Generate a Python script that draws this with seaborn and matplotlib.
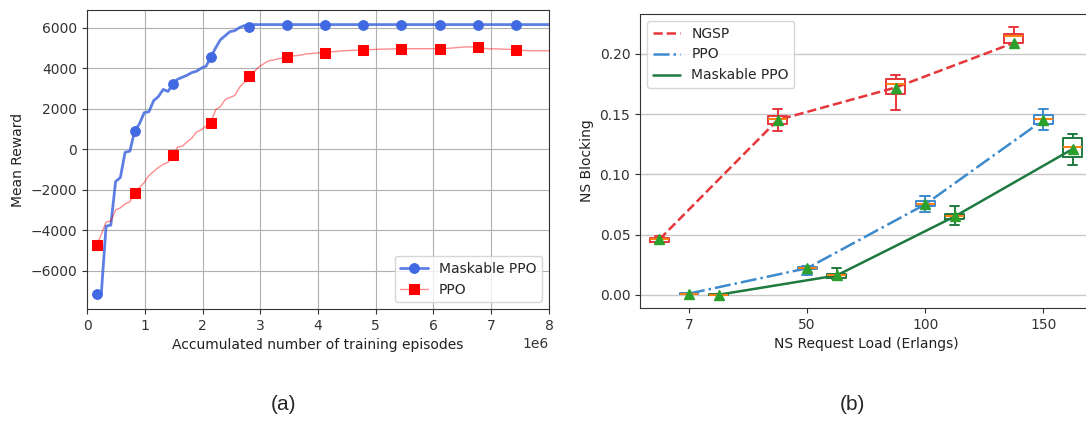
import numpy as np
import pandas as pd
import seaborn as sns
import matplotlib
matplotlib.use("Agg")
import matplotlib.pyplot as plt

# ---- (a) training curves, evaluated every 82.5k episodes ----
eval_start = 165000
eval_step = 82500
n_evals = 97
episodes = eval_start + eval_step * np.arange(n_evals)

maskable_reward = [-7150, -7150, -3800, -3750, -1600, -1400, -150, -100, 900, 1250,
                   1800, 1850, 2400, 2600, 2950, 2850, 3200, 3450, 3550, 3650,
                   3780, 3850, 4000, 4100, 4550, 5000, 5400, 5600, 5800, 5850,
                   6000, 6100, 6050, 6150] + [6150] * 63

ppo_reward = [-4750, -4200, -3600, -3550, -3000, -2900, -2700, -2600, -2150, -1900,
              -1650, -1300, -1100, -900, -750, -650, -300, 100, 150, 350,
              550, 850, 950, 1150, 1300, 1950, 2100, 2450, 2550, 2650,
              3050, 3300, 3600, 3800, 4050, 4200, 4350, 4400, 4450, 4500,
              4550, 4600, 4620, 4650, 4700, 4720, 4740, 4760, 4770, 4800,
              4820, 4840, 4860, 4870, 4880, 4890, 4900, 4910, 4920, 4930,
              4940, 4940, 4950, 4950, 4960, 4960, 4960, 4960, 4960, 4960,
              4960, 4960, 4960, 4970, 4980, 5000, 5020, 5040, 5050, 5050,
              5030, 4980, 4960, 4950, 4950, 4940, 4930, 4920, 4900, 4880,
              4870, 4860, 4860, 4860, 4860, 4860, 4850]

# ---- (b) blocking box stats ----
loads = ["7", "50", "100", "150"]

ngsp_mean = [0.046, 0.145, 0.172, 0.209]
ngsp_med = [0.046, 0.146, 0.175, 0.215]
ngsp_q1 = [0.044, 0.142, 0.167, 0.209]
ngsp_q3 = [0.047, 0.148, 0.179, 0.216]
ngsp_lo = [0.043, 0.136, 0.153, 0.209]
ngsp_hi = [0.049, 0.154, 0.182, 0.222]

ppo_mean = [0.001, 0.022, 0.075, 0.145]
ppo_med = [0.001, 0.022, 0.075, 0.146]
ppo_q1 = [0.0005, 0.021, 0.074, 0.142]
ppo_q3 = [0.0012, 0.023, 0.078, 0.149]
ppo_lo = [0.0005, 0.016, 0.069, 0.137]
ppo_hi = [0.0012, 0.024, 0.082, 0.154]

mask_mean = [0.000, 0.016, 0.065, 0.121]
mask_med = [0.000, 0.016, 0.065, 0.123]
mask_q1 = [0.000, 0.014, 0.063, 0.114]
mask_q3 = [0.0003, 0.017, 0.067, 0.130]
mask_lo = [0.000, 0.013, 0.058, 0.108]
mask_hi = [0.0003, 0.022, 0.074, 0.133]

sns.set_style("ticks")
plt.rcParams["font.family"] = ["DejaVu Sans"]
plt.rcParams["font.size"] = 10
plt.rcParams["axes.edgecolor"] = "#333333"
plt.rcParams["xtick.color"] = "#333333"
plt.rcParams["ytick.color"] = "#333333"
plt.rcParams["axes.labelcolor"] = "#222222"

W, H = 1086, 421
fig = plt.figure(figsize=(W / 100, H / 100), dpi=100)

def px_axes(left, top, right, bottom):
    return fig.add_axes([left / W, 1 - bottom / H, (right - left) / W, (bottom - top) / H])

# ---------- panel (a) ----------
ax1 = px_axes(87, 10, 549, 309)
df_a = pd.DataFrame({"episodes": episodes, "Maskable PPO": maskable_reward, "PPO": ppo_reward})
sns.lineplot(data=df_a, x="episodes", y="Maskable PPO", ax=ax1, label="Maskable PPO",
             color=(0.25, 0.41, 0.88, 0.85), linewidth=2, marker="o", markersize=7,
             markevery=8, markerfacecolor="#4169e1", markeredgecolor="#4169e1")
sns.lineplot(data=df_a, x="episodes", y="PPO", ax=ax1, label="PPO",
             color=(1.0, 0.0, 0.0, 0.45), linewidth=1, marker="s", markersize=7,
             markevery=8, markerfacecolor="red", markeredgecolor="red")
ax1.set_xlim(0, 8e6)
ax1.set_ylim(-7890, 6870)
ax1.set_xticks(np.arange(0, 9) * 1e6)
ax1.set_yticks([-6000, -4000, -2000, 0, 2000, 4000, 6000])
ax1.grid(True, color="#b0b0b0", linewidth=0.8)
ax1.set_xlabel("Accumulated number of training episodes")
ax1.set_ylabel("Mean Reward")
ax1.legend(loc="lower right", fontsize=10)

# ---------- panel (b) ----------
# axes run past the right edge of the figure, as in the original crop
ax2 = px_axes(640, 14, 1120, 308)
base = np.arange(1, len(loads) + 1)
series = [
    ("NGSP", -0.25, "#e6363a", "--", ngsp_mean, ngsp_med, ngsp_q1, ngsp_q3, ngsp_lo, ngsp_hi),
    ("PPO", 0.0, "#3d8bcc", "-.", ppo_mean, ppo_med, ppo_q1, ppo_q3, ppo_lo, ppo_hi),
    ("Maskable PPO", 0.25, "#1f7a40", "-", mask_mean, mask_med, mask_q1, mask_q3, mask_lo, mask_hi),
]
for name, off, col, ls, mean, med, q1, q3, lo, hi in series:
    pos = base + off
    sns.lineplot(x=pos, y=mean, ax=ax2, color=col, linestyle=ls, linewidth=1.8, label=name)
    stats = [dict(mean=mean[i], med=med[i], q1=q1[i], q3=q3[i], whislo=lo[i], whishi=hi[i], fliers=[])
             for i in range(len(loads))]
    ax2.bxp(stats, positions=pos, widths=0.16, showmeans=True, manage_ticks=False,
            boxprops=dict(color=col, linewidth=1.4),
            whiskerprops=dict(color=col, linewidth=1.4),
            capprops=dict(color=col, linewidth=1.4),
            medianprops=dict(color="#ff7f0e", linewidth=1.4),
            meanprops=dict(marker="^", markerfacecolor="#2ca02c", markeredgecolor="#2ca02c", markersize=7))
ax2.set_xlim(0.585, 4.65)
ax2.set_ylim(-0.011, 0.233)
ax2.set_xticks(base)
ax2.set_xticklabels(loads)
ax2.set_yticks([0, 0.05, 0.10, 0.15, 0.20])
ax2.yaxis.set_major_formatter(matplotlib.ticker.FormatStrFormatter("%.2f"))
ax2.grid(True, axis="y", color="#c8c8c8", linewidth=1)
ax2.set_xlabel("NS Request Load (Erlangs)")
ax2.xaxis.label.set_x(0.471)
ax2.set_ylabel("NS Blocking")
ax2.legend(loc="upper left", fontsize=10)

fig.text(283 / W, 1 - 405 / H, "(a)", ha="center", va="center", fontsize=15, family="Liberation Sans")
fig.text(852 / W, 1 - 405 / H, "(b)", ha="center", va="center", fontsize=15, family="Liberation Sans")

fig.savefig("out.png", dpi=100)
